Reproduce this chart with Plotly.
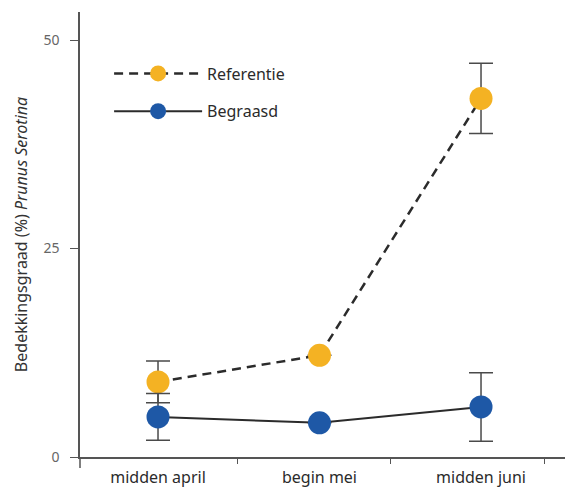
import plotly.graph_objects as go

# Sampling moments and their position on the x axis
periods = ["midden april", "begin mei", "midden juni"]
period_pos = [1, 2, 3]
# Small tick marks on the x axis, placed between the periods
tick_marks = [1.49, 2.44, 3.39]

# Cover (%) of Prunus serotina per treatment, with error margins
referentie = [9.0, 12.2, 43.0]
referentie_err = [2.5, 0.0, 4.2]
begraasd = [4.8, 4.1, 6.0]
begraasd_err = [2.8, 0.0, 4.1]

y_ticks = [0, 25, 50]

YELLOW = "#F4B223"
BLUE = "#1E58A6"
INK = "#2b2b2b"
AXIS = "#555555"
FONT = "Noto Sans"

fig = go.Figure()

fig.add_trace(go.Scatter(
    x=period_pos, y=referentie, name="Referentie", legendgroup="ref",
    mode="lines+markers",
    line=dict(color=INK, width=2.5, dash="9px,6px"),
    marker=dict(color=YELLOW, size=23),
    error_y=dict(type="data", array=referentie_err, color="#4a4a4a",
                 thickness=1.5, width=12),
))

fig.add_trace(go.Scatter(
    x=period_pos, y=begraasd, name="Begraasd", legendgroup="beg",
    mode="lines+markers",
    line=dict(color=INK, width=2),
    marker=dict(color=BLUE, size=23),
    error_y=dict(type="data", array=begraasd_err, color="#4a4a4a",
                 thickness=1.5, width=12),
))

# Short stretch of the y axis below the zero line
fig.add_shape(type="line", xref="paper", yref="paper",
              x0=0, x1=0, y0=0, y1=-11 / 445,
              line=dict(color=AXIS, width=1.5))

fig.update_layout(
    width=569, height=491,
    margin=dict(l=80, r=4, t=12, b=34),
    paper_bgcolor="white", plot_bgcolor="white",
    font=dict(family=FONT, size=14, color=INK),
    showlegend=True,
    legend=dict(
        x=0.06, y=0.90, xanchor="left", yanchor="top",
        bgcolor="rgba(0,0,0,0)",
        font=dict(family=FONT, size=16, color=INK),
        itemwidth=88, tracegroupgap=14,
    ),
    xaxis=dict(
        range=[0.517, 3.52],
        tickvals=period_pos, ticktext=periods,
        ticks="", showline=True, linecolor=AXIS, linewidth=1.5,
        showgrid=False, zeroline=False,
        ticklabelstandoff=5,
        tickfont=dict(family=FONT, size=16, color=INK),
    ),
    xaxis2=dict(
        range=[0.517, 3.52], overlaying="x", anchor="y", side="bottom",
        tickvals=tick_marks, ticks="outside", ticklen=6, tickwidth=1,
        tickcolor=AXIS, showticklabels=False, showline=False,
        showgrid=False, zeroline=False,
    ),
    yaxis=dict(
        range=[0, 53.36],
        tickvals=y_ticks, ticks="outside", ticklen=8, tickwidth=1,
        tickcolor=AXIS, showline=True, linecolor=AXIS, linewidth=1.5,
        showgrid=False, zeroline=False,
        ticklabelstandoff=8,
        tickfont=dict(family=FONT, size=14, color="#666666"),
        title=dict(text="Bedekkingsgraad (%) <i>Prunus Serotina</i>",
                   font=dict(family=FONT, size=16, color="#333333"),
                   standoff=12),
    ),
)

# Invisible helper trace so the tick-mark axis is drawn
fig.add_trace(go.Scatter(x=[None], y=[None], xaxis="x2", showlegend=False,
                         hoverinfo="skip"))

fig.write_html("out.html")
